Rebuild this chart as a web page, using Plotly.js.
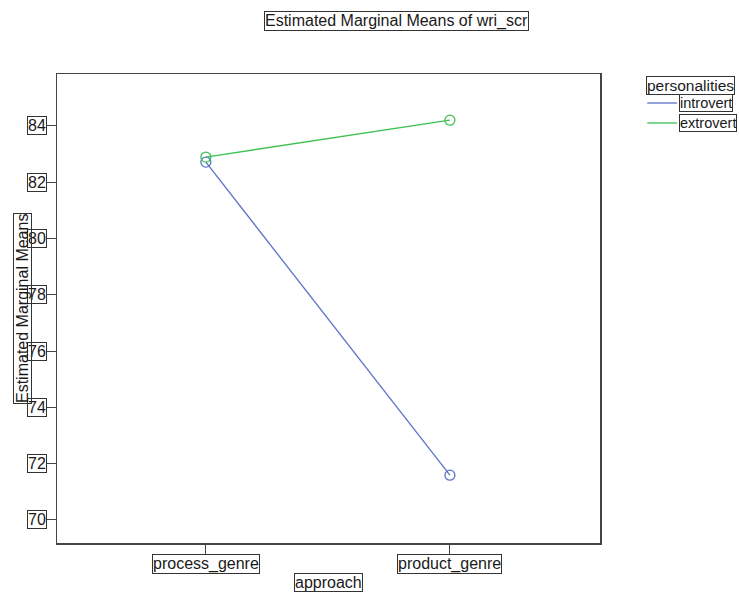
<!DOCTYPE html>
<html>
<head>
<meta charset="utf-8">
<script src="https://cdn.plot.ly/plotly-3.0.1.min.js"></script>
<style>html,body{margin:0;padding:0;background:#fff;}#chart{width:739px;height:594px;}</style>
</head>
<body>
<div id="chart"></div>
<script>
const categories = ["process_genre", "product_genre"];
const introvert = [82.71, 71.59];
const extrovert = [82.89, 84.2];
const seriesNames = ["introvert", "extrovert"];
const yTickValues = [70, 72, 74, 76, 78, 80, 82, 84];
const chartTitle = "Estimated Marginal Means of wri_scr";
const xTitle = "approach";
const yTitle = "Estimated Marginal Means";
const legendTitle = "personalities";

const colors = ["#5a72c8", "#3fc253"];
const FONT = "Liberation Sans, Arial, sans-serif";
const fsize = 16;
const txt = "#1a1a1a";
const box = {bordercolor: "#333", borderwidth: 1, borderpad: 0, font: {family: FONT, size: fsize, color: txt}, showarrow: false};

const xIdx = categories.map((c, i) => i);
const traces = [introvert, extrovert].map((vals, k) => ({
  x: xIdx, y: vals, name: seriesNames[k], type: "scatter", mode: "lines+markers",
  line: {color: colors[k], width: 1.3},
  marker: {symbol: "circle-open", size: 10, color: colors[k], line: {width: 1.3, color: colors[k]}},
  showlegend: false, hoverinfo: "x+y+name"
}));

const annotations = [];
yTickValues.forEach(v => annotations.push(Object.assign({}, box, {
  text: String(v), xref: "paper", x: 0, xanchor: "right", xshift: -10, yref: "y", y: v, yanchor: "middle"
})));
categories.forEach((c, i) => annotations.push(Object.assign({}, box, {
  text: c, xref: "x", x: i, xanchor: "center", yref: "paper", y: 0, yanchor: "top", yshift: -11
})));
annotations.push(Object.assign({}, box, {text: xTitle, xref: "paper", x: 0.5, xanchor: "center", yref: "paper", y: 0, yanchor: "top", yshift: -30}));
annotations.push(Object.assign({}, box, {text: yTitle, textangle: -90, xref: "paper", x: 0, xanchor: "center", xshift: -34.5, yref: "paper", y: 0.5, yanchor: "middle"}));
annotations.push(Object.assign({}, box, {text: chartTitle, xref: "paper", x: 0.626, xanchor: "center", yref: "paper", y: 1, yanchor: "middle", yshift: 53}));
// legend (manual, boxed entries)
annotations.push(Object.assign({}, box, {text: legendTitle, font: {family: FONT, size: 15.5, color: txt}, xref: "paper", x: 1, xanchor: "left", xshift: 46, yref: "paper", y: 1, yanchor: "middle", yshift: -11}));
const shapes = [];
seriesNames.forEach((n, k) => {
  annotations.push(Object.assign({}, box, {text: n, font: {family: FONT, size: 14.5, color: txt}, xref: "paper", x: 1, xanchor: "left", xshift: 79, yref: "paper", y: 1, yanchor: "middle", yshift: -29 - 20 * k}));
  shapes.push({type: "line", xref: "paper", yref: "paper", x0: 1.087, x1: 1.142, y0: 1 - (29 + 20 * k) / 469, y1: 1 - (29 + 20 * k) / 469, line: {color: colors[k], width: 1.3}});
});

const layout = {
  width: 739, height: 594,
  margin: {l: 57, r: 139, t: 74, b: 51, pad: 0},
  paper_bgcolor: "#fff", plot_bgcolor: "#fff",
  font: {family: FONT, size: fsize, color: txt},
  showlegend: false,
  xaxis: {range: [-0.61, 1.615], tickvals: xIdx, ticktext: categories, showticklabels: false,
    ticks: "outside", ticklen: 10, tickcolor: "#444", tickwidth: 1, showgrid: false, zeroline: false,
    showline: true, mirror: true, linecolor: "#444", linewidth: 1.5},
  yaxis: {range: [69.18, 85.84], tickvals: yTickValues, showticklabels: false,
    ticks: "outside", ticklen: 9, tickcolor: "#444", tickwidth: 1, showgrid: false, zeroline: false,
    showline: true, mirror: true, linecolor: "#444", linewidth: 1.5},
  annotations: annotations, shapes: shapes
};
Plotly.newPlot("chart", traces, layout, {displayModeBar: false, staticPlot: true});
</script>
</body>
</html>
